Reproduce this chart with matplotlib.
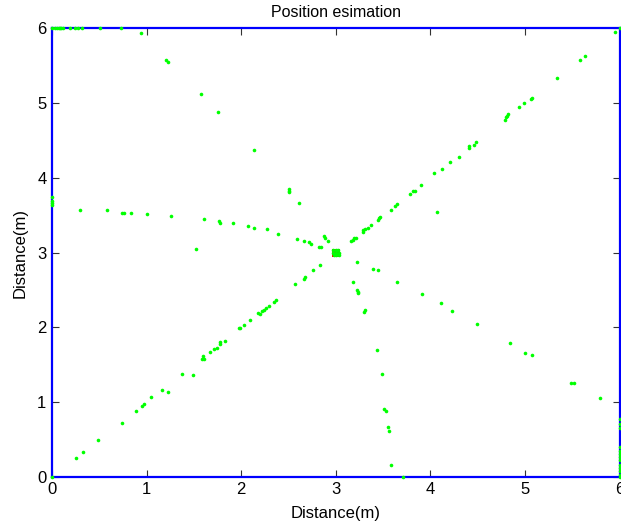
import matplotlib
matplotlib.use("Agg")
import matplotlib.pyplot as plt

plt.rcParams['font.family'] = ['Liberation Sans', 'DejaVu Sans']

# Estimated positions (m)
est_x = [
    # top edge
    0.00, 0.03, 0.05, 0.07, 0.08, 0.10, 0.12, 0.19, 0.24, 0.28, 0.32, 0.51, 0.73,
    # ray toward upper-left
    0.94, 1.20, 1.23, 1.57, 1.75, 2.13, 2.50, 2.51, 2.51, 2.61, 2.87, 2.89, 2.92,
    # ray toward left
    0.00, 0.00, 0.00, 0.00, 0.30, 0.58, 0.74, 0.76, 0.84, 1.00, 1.26, 1.52, 1.61, 1.77, 1.78,
    1.91, 2.07, 2.14, 2.27, 2.39, 2.59, 2.66, 2.72, 2.74, 2.82, 2.84,
    # ray toward upper-right
    3.16, 3.18, 3.19, 3.21, 3.29, 3.29, 3.31, 3.34, 3.37, 3.44, 3.46, 3.47, 3.58, 3.62,
    3.65, 3.78, 3.82, 3.84, 3.90, 4.04, 4.12, 4.21, 4.30, 4.41, 4.41, 4.46, 4.48, 4.07,
    4.79, 4.80, 4.81, 4.82, 4.93, 4.99, 5.06, 5.07, 5.34, 5.58, 5.63, 5.95, 6.00,
    # ray toward lower-left
    2.83, 2.76, 2.67, 2.66, 2.57, 2.37, 2.35, 2.29, 2.26, 2.24, 2.22, 2.20, 2.18, 2.09,
    2.03, 1.99, 1.98, 1.83, 1.78, 1.78, 1.74, 1.71, 1.67, 1.61, 1.60, 1.59, 1.49, 1.37,
    1.23, 1.16, 1.05, 0.97, 0.95, 0.89, 0.74, 0.49, 0.33, 0.25, 0.00,
    # ray toward lower-right
    3.22, 3.39, 3.44, 3.65, 3.91, 4.11, 4.23, 4.49, 4.84, 5.00, 5.07, 5.49, 5.52, 5.79,
    # right edge
    6.00, 6.00, 6.00, 6.00, 6.00, 6.00, 6.00, 6.00, 6.00, 6.00, 6.00, 6.00, 6.00,
    # ray toward bottom
    3.18, 3.22, 3.23, 3.23, 3.31, 3.30, 3.43, 3.49, 3.51, 3.53, 3.55, 3.56, 3.58, 3.71,
    # center cluster
    3.00, 2.97, 3.03, 3.02, 2.98, 2.97, 3.03, 3.00, 3.00,
]
est_y = [
    # top edge
    6.00, 6.00, 6.00, 6.00, 6.00, 6.00, 6.00, 6.00, 6.00, 6.00, 6.00, 6.00, 6.00,
    # ray toward upper-left
    5.94, 5.58, 5.55, 5.12, 4.88, 4.37, 3.85, 3.83, 3.81, 3.67, 3.22, 3.20, 3.16,
    # ray toward left
    3.75, 3.69, 3.67, 3.64, 3.57, 3.57, 3.53, 3.53, 3.53, 3.52, 3.49, 3.05, 3.45, 3.42, 3.40,
    3.40, 3.35, 3.33, 3.31, 3.25, 3.18, 3.16, 3.14, 3.12, 3.07, 3.07,
    # ray toward upper-right
    3.16, 3.17, 3.19, 3.20, 3.28, 3.30, 3.31, 3.33, 3.37, 3.43, 3.46, 3.47, 3.57, 3.62,
    3.65, 3.79, 3.82, 3.83, 3.90, 4.06, 4.12, 4.21, 4.28, 4.43, 4.40, 4.44, 4.48, 3.54,
    4.78, 4.81, 4.83, 4.86, 4.95, 5.00, 5.06, 5.07, 5.34, 5.58, 5.63, 5.95, 6.00,
    # ray toward lower-left
    2.83, 2.76, 2.67, 2.65, 2.58, 2.36, 2.34, 2.29, 2.26, 2.23, 2.22, 2.18, 2.19, 2.10,
    2.03, 1.99, 1.99, 1.82, 1.80, 1.78, 1.72, 1.71, 1.67, 1.58, 1.62, 1.58, 1.36, 1.38,
    1.13, 1.16, 1.06, 0.97, 0.95, 0.88, 0.72, 0.49, 0.33, 0.25, 0.00,
    # ray toward lower-right
    2.88, 2.78, 2.77, 2.61, 2.44, 2.32, 2.22, 2.05, 1.79, 1.66, 1.63, 1.26, 1.26, 1.05,
    # right edge
    0.77, 0.70, 0.65, 0.40, 0.35, 0.31, 0.27, 0.22, 0.16, 0.11, 0.07, 0.02, 0.00,
    # ray toward bottom
    2.61, 2.50, 2.47, 2.46, 2.23, 2.21, 1.69, 1.37, 0.91, 0.88, 0.66, 0.61, 0.15, 0.00,
    # center cluster
    3.00, 3.03, 2.97, 3.03, 2.97, 3.00, 3.00, 3.03, 2.97,
]

true_x = [3.0]
true_y = [3.0]

xticks = [0, 1, 2, 3, 4, 5, 6]
yticks = [0, 1, 2, 3, 4, 5, 6]

fig = plt.figure(figsize=(6.21, 5.27), dpi=100)
ax = fig.add_axes([0.0837, 0.0955, 0.9143, 0.8505])

ax.plot(true_x, true_y, 's', color='red', markersize=6, mew=0, clip_on=False, zorder=3)
ax.plot(est_x, est_y, 'o', color='#00ff00', markersize=2.6, mew=0, linestyle='none',
        clip_on=False, zorder=4)

ax.set_xlim(0, 6)
ax.set_ylim(0, 6)
ax.set_xticks(xticks)
ax.set_yticks(yticks)
for s in ax.spines.values():
    s.set_color('blue')
    s.set_linewidth(1.6)
ax.tick_params(direction='in', length=5, width=0.8, color='#333333',
               top=True, right=True, labelsize=12, pad=4)

ax.set_title('Position esimation', fontsize=11.5, pad=8)
ax.set_xlabel('Distance(m)', fontsize=12, labelpad=6)
ax.set_ylabel('Distance(m)', fontsize=12, labelpad=7)

fig.savefig('out.png', dpi=100)
